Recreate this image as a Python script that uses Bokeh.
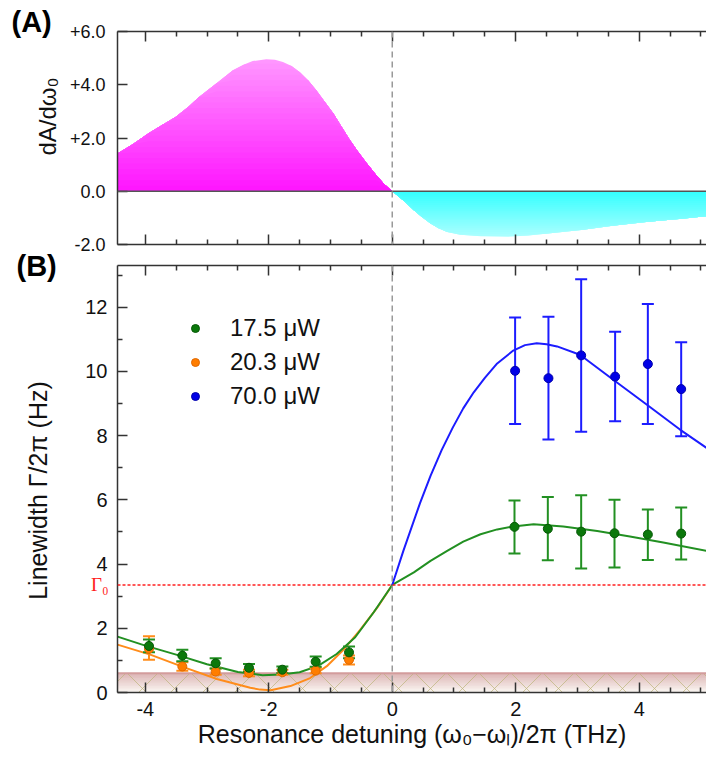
import numpy as np
from bokeh.plotting import figure
from bokeh.models import (FixedTicker, LinearAxis, Span, Label, Range1d,
                          Legend, LegendItem, ColumnDataSource)
from bokeh.layouts import column, row
from bokeh.embed import file_html
from bokeh.resources import INLINE

# ----------------------------- data -----------------------------
x_span = [-4.45, 5.09]

# Panel A : dA/dω0
a_pos_x = [-4.45, -4.21, -3.94, -3.72, -3.51, -3.30, -3.13, -2.85, -2.58, -2.40,
           -2.26, -2.04, -1.90, -1.77, -1.63, -1.50, -1.36, -1.23, -1.09, -0.95,
           -0.82, -0.68, -0.55, -0.41, -0.27, -0.14, 0.0]
a_pos_y = [1.42, 1.76, 2.19, 2.50, 2.79, 3.17, 3.54, 4.05, 4.54, 4.76,
           4.89, 4.96, 4.94, 4.85, 4.70, 4.48, 4.16, 3.79, 3.35, 2.91,
           2.42, 1.91, 1.47, 1.04, 0.64, 0.29, 0.0]
a_neg_x = [0.0, 0.18, 0.35, 0.48, 0.62, 0.75, 0.89, 1.10, 1.43, 1.87, 2.20,
           2.52, 3.06, 3.60, 4.15, 4.69, 5.09]
a_neg_y = [0.0, -0.35, -0.71, -0.97, -1.21, -1.39, -1.53, -1.63, -1.69, -1.71, -1.66,
           -1.59, -1.46, -1.29, -1.15, -1.03, -0.94]
a_yticks = [-2, 0, 2, 4, 6]
a_ytick_labels = ["-2.0", "0.0", "+2.0", "+4.0", "+6.0"]

# Panel B : linewidth
x_ticks = [-4, -2, 0, 2, 4]
x_tick_labels = ["-4", "-2", "0", "2", "4"]
x_minor_ticks = [-4.5, -3.5, -3, -2.5, -1.5, -1, -0.5, 0.5, 1, 1.5, 2.5, 3, 3.5, 4.5, 5]
b_yticks = [0, 2, 4, 6, 8, 10, 12]
b_yminor = [1, 3, 5, 7, 9, 11, 13]

gamma0 = 3.35
noise_floor = 0.6

green_x = [-3.94, -3.40, -2.86, -2.32, -1.78, -1.24, -0.70, 1.98, 2.52, 3.06, 3.60, 4.14, 4.68]
green_y = [1.45, 1.15, 0.91, 0.77, 0.71, 0.96, 1.25, 5.16, 5.10, 5.01, 4.96, 4.92, 4.95]
green_hi = [1.65, 1.33, 1.07, 0.89, 0.81, 1.12, 1.43, 5.98, 6.09, 6.14, 6.00, 5.70, 5.76]
green_lo = [1.25, 0.97, 0.75, 0.65, 0.61, 0.80, 1.07, 4.33, 4.12, 3.86, 3.89, 4.13, 4.14]

orange_x = [-3.94, -3.40, -2.86, -2.32, -1.78, -1.24, -0.70]
orange_y = [1.36, 0.81, 0.65, 0.61, 0.63, 0.68, 1.02]
orange_hi = [1.75, 0.94, 0.75, 0.71, 0.71, 0.76, 1.15]
orange_lo = [1.02, 0.68, 0.55, 0.51, 0.55, 0.60, 0.87]

blue_x = [1.99, 2.53, 3.06, 3.61, 4.14, 4.68]
blue_y = [10.02, 9.79, 10.50, 9.84, 10.23, 9.45]
blue_hi = [11.68, 11.70, 12.87, 11.24, 12.10, 10.91]
blue_lo = [8.36, 7.88, 8.12, 8.45, 8.36, 7.98]

green_fit_x = [-4.45, -4.0, -3.5, -3.0, -2.5, -2.1, -1.8, -1.5, -1.2, -0.9, -0.6, -0.3, 0.0,
               0.35, 0.62, 0.89, 1.15, 1.43, 1.70, 1.96, 2.29, 2.77, 3.32, 3.85, 4.39, 5.09]
green_fit_y = [1.74, 1.46, 1.18, 0.88, 0.64, 0.54, 0.56, 0.63, 0.83, 1.20, 1.72, 2.50, 3.35,
               3.74, 4.10, 4.41, 4.70, 4.93, 5.08, 5.17, 5.24, 5.17, 5.03, 4.86, 4.67, 4.41]
orange_fit_x = [-4.45, -3.92, -3.38, -2.84, -2.30, -2.14, -1.97, -1.65, -1.33, -1.06,
                -0.79, -0.52, -0.24, 0.0]
orange_fit_y = [1.49, 1.18, 0.79, 0.42, 0.15, 0.09, 0.07, 0.20, 0.45, 0.82,
                1.33, 1.95, 2.65, 3.35]
blue_fit_x = [0.0, 0.18, 0.45, 0.62, 0.80, 0.98, 1.15, 1.32, 1.50, 1.70, 1.96, 2.15, 2.34,
              2.50, 2.67, 3.04, 3.58, 4.12, 4.66, 5.09]
blue_fit_y = [3.35, 4.41, 5.90, 6.75, 7.55, 8.25, 8.85, 9.35, 9.80, 10.25, 10.65, 10.82, 10.88,
              10.85, 10.78, 10.52, 9.74, 8.97, 8.19, 7.62]

legend_labels = ["17.5 \u03bcW", "20.3 \u03bcW", "70.0 \u03bcW"]
panel_tags = ["(A)", "(B)"]
a_ylabel = "dA/d\u03c9\u2080"
b_ylabel = "Linewidth \u0393/2\u03c0 (Hz)"
b_xlabel = "Resonance detuning (\u03c9\u2080\u2212\u03c9\u2097)/2\u03c0 (THz)"
gamma0_label = "\u0393\u2080"

# ----------------------------- styling helpers -----------------------------
FONT = "Liberation Sans"
AX = "#333333"
GREEN_L, GREEN_P = "#229022", "#0b780b"
ORANGE_L, ORANGE_P = "#ff8c1a", "#ff7d00"
BLUE_L, BLUE_P = "#1c1cff", "#0000e6"
STRIP_W = 62
MAIN_W = 706 - STRIP_W


def mix(c0, c1, t):
    a = [int(c0[i:i + 2], 16) for i in (1, 3, 5)]
    b = [int(c1[i:i + 2], 16) for i in (1, 3, 5)]
    return "#%02x%02x%02x" % tuple(int(round(a[i] + (b[i] - a[i]) * t)) for i in range(3))


def gradient_area(p, x, y, c_base, c_far, extent, sign=1, n=24):
    x = np.asarray(x, float)
    yy = np.asarray(y, float) * sign
    levels = np.linspace(0, extent, n + 1)
    for k in range(n, 0, -1):
        top = np.minimum(yy, levels[k])
        p.varea(x=x, y1=np.zeros_like(x), y2=sign * top,
                fill_color=mix(c_base, c_far, (k - 0.5) / n), fill_alpha=1.0)


def style_ticks(ax):
    ax.major_tick_in = 10
    ax.major_tick_out = 0
    ax.minor_tick_in = 5
    ax.minor_tick_out = 0
    ax.axis_line_color = AX
    ax.axis_line_width = 1.5
    ax.major_tick_line_color = AX
    ax.major_tick_line_width = 1.5
    ax.minor_tick_line_color = AX
    ax.minor_tick_line_width = 1.5


def xaxis(show_labels):
    ax = LinearAxis(ticker=FixedTicker(ticks=x_ticks, minor_ticks=x_minor_ticks))
    style_ticks(ax)
    if show_labels:
        ax.major_label_overrides = {t: l for t, l in zip(x_ticks, x_tick_labels)}
        ax.major_label_text_font = FONT
        ax.major_label_text_font_size = "20px"
        ax.major_label_text_color = "#111111"
        ax.major_label_standoff = 9
    else:
        ax.major_label_text_color = None
        ax.major_label_text_font_size = "1px"
        ax.major_label_standoff = 0
    return ax


def yaxis(ticks, minor, overrides, size, standoff):
    ax = LinearAxis(ticker=FixedTicker(ticks=ticks, minor_ticks=minor))
    style_ticks(ax)
    ax.major_label_overrides = overrides
    ax.major_label_text_font = FONT
    ax.major_label_text_font_size = size
    ax.major_label_text_color = "#111111"
    ax.major_label_standoff = standoff
    return ax


# ----------------------------- left strip with panel tags / titles -----------------------------
strip = figure(width=STRIP_W, height=757, x_range=Range1d(0, STRIP_W), y_range=Range1d(0, 757),
               output_backend="svg", toolbar_location=None,
               x_axis_location=None, y_axis_location=None,
               min_border=0, min_border_left=0, min_border_right=0,
               min_border_top=0, min_border_bottom=0)
strip.outline_line_color = None
strip.grid.visible = False
strip.add_layout(Label(x=11, y=21, x_units="canvas", y_units="canvas", text=panel_tags[0],
                       text_align="left", text_baseline="middle", text_font=FONT,
                       text_font_style="bold", text_font_size="29px", text_color="#000000"))
strip.add_layout(Label(x=16, y=265, x_units="canvas", y_units="canvas", text=panel_tags[1],
                       text_align="left", text_baseline="middle", text_font=FONT,
                       text_font_style="bold", text_font_size="29px", text_color="#000000"))
strip.add_layout(Label(x=47, y=116, x_units="canvas", y_units="canvas", text=a_ylabel,
                       angle=np.pi / 2, text_align="center", text_baseline="middle",
                       text_font=FONT, text_font_size="24px", text_color="#111111"))
strip.add_layout(Label(x=37, y=490, x_units="canvas", y_units="canvas", text=b_ylabel,
                       angle=np.pi / 2, text_align="center", text_baseline="middle",
                       text_font=FONT, text_font_size="25px", text_color="#111111"))

# ----------------------------- panel A -----------------------------
pA = figure(width=MAIN_W, height=256, x_range=Range1d(*x_span), y_range=Range1d(-2, 6),
            output_backend="svg", toolbar_location=None,
            x_axis_location=None, y_axis_location=None,
            min_border_left=117 - STRIP_W, min_border_right=0, min_border_top=31,
            min_border_bottom=12)
pA.outline_line_color = None
pA.grid.visible = False

gradient_area(pA, a_pos_x, a_pos_y, "#ff14ff", "#ff99ff", 5.0, sign=1)
gradient_area(pA, a_neg_x, a_neg_y, "#33ffff", "#b0ffff", 1.75, sign=-1)

pA.add_layout(Span(location=0, dimension="width", line_color="#555555", line_width=1.5))
pA.add_layout(Span(location=0, dimension="height", line_color="#999999", line_width=1.5,
                   line_dash="6 4"))

pA.add_layout(xaxis(False), "below")
pA.add_layout(xaxis(False), "above")
pA.add_layout(yaxis(a_yticks, [], {t: l for t, l in zip(a_yticks, a_ytick_labels)},
                    "18px", 12), "left")

# ----------------------------- panel B -----------------------------
pB = figure(width=MAIN_W, height=757 - 256, x_range=Range1d(*x_span), y_range=Range1d(0, 13.3),
            output_backend="svg", toolbar_location=None,
            x_axis_location=None, y_axis_location=None,
            min_border_left=117 - STRIP_W, min_border_right=0, min_border_top=265 - 256,
            min_border_bottom=65)
pB.outline_line_color = None
pB.grid.visible = False

# noise-floor band (gradient + cross hatch)
band_x = np.array(x_span)
nb = 12
for k in range(nb, 0, -1):
    pB.varea(x=band_x, y1=[0, 0], y2=[noise_floor * k / nb] * 2,
             fill_color=mix("#fbf8f4", "#dcb4b4", (k - 0.5) / nb))
pB.varea(x=band_x, y1=[0, 0], y2=[noise_floor] * 2, fill_alpha=0,
         hatch_pattern="diagonal_cross", hatch_color="#bdb47a", hatch_alpha=0.7,
         hatch_scale=32, hatch_weight=1)
pB.line(x=band_x, y=[noise_floor] * 2, line_color="#d39c9c", line_width=2)

pB.add_layout(Span(location=0, dimension="height", line_color="#999999", line_width=1.5,
                   line_dash="6 4"))
pB.add_layout(Span(location=gamma0, dimension="width", line_color="#ff2020", line_width=1.5,
                   line_dash="3 2"))

# fitted curves
pB.line(orange_fit_x, orange_fit_y, line_color=ORANGE_L, line_width=2)
pB.line(green_fit_x, green_fit_y, line_color=GREEN_L, line_width=2)
pB.line(blue_fit_x, blue_fit_y, line_color=BLUE_L, line_width=2)


def errbars(p, x, lo, hi, color):
    src = ColumnDataSource(dict(x=x, lo=lo, hi=hi))
    p.segment(x0="x", y0="lo", x1="x", y1="hi", source=src, line_color=color, line_width=2)
    p.scatter(x="x", y="hi", source=src, marker="dash", size=12, line_color=color, line_width=2)
    p.scatter(x="x", y="lo", source=src, marker="dash", size=12, line_color=color, line_width=2)


errbars(pB, orange_x, orange_lo, orange_hi, ORANGE_L)
errbars(pB, green_x, green_lo, green_hi, GREEN_L)
errbars(pB, blue_x, blue_lo, blue_hi, BLUE_L)

r_orange = pB.scatter(orange_x, orange_y, size=9, fill_color=ORANGE_P, line_color="#e06800")
r_green = pB.scatter(green_x, green_y, size=9, fill_color=GREEN_P, line_color="#065806")
r_blue = pB.scatter(blue_x, blue_y, size=9, fill_color=BLUE_P, line_color="#0000aa")

legend = Legend(items=[LegendItem(label=legend_labels[0], renderers=[r_green]),
                       LegendItem(label=legend_labels[1], renderers=[r_orange]),
                       LegendItem(label=legend_labels[2], renderers=[r_blue])],
                location=(68, 281), border_line_color=None, background_fill_alpha=0,
                label_text_font=FONT, label_text_font_size="24px", label_text_color="#111111",
                glyph_width=20, glyph_height=20, label_height=30, spacing=4,
                padding=0, margin=0, label_standoff=25)
pB.add_layout(legend)

bx = xaxis(True)
bx.axis_label = b_xlabel
bx.axis_label_text_font = FONT
bx.axis_label_text_font_size = "25px"
bx.axis_label_text_font_style = "normal"
bx.axis_label_text_color = "#111111"
bx.axis_label_standoff = 1
pB.add_layout(bx, "below")
pB.add_layout(xaxis(False), "above")

pB.add_layout(yaxis(b_yticks, b_yminor, {t: str(t) for t in b_yticks}, "20px", 10), "left")
pB.add_layout(Label(x=108 - STRIP_W, y=gamma0, x_units="canvas", y_units="data",
                    text=gamma0_label, text_align="right", text_baseline="middle",
                    text_font="Liberation Serif", text_font_size="19px",
                    text_color="#ff2020"), "left")

layout = row(strip, column(pA, pB, spacing=0), spacing=0)
open("out.html", "w").write(file_html(layout, INLINE))
